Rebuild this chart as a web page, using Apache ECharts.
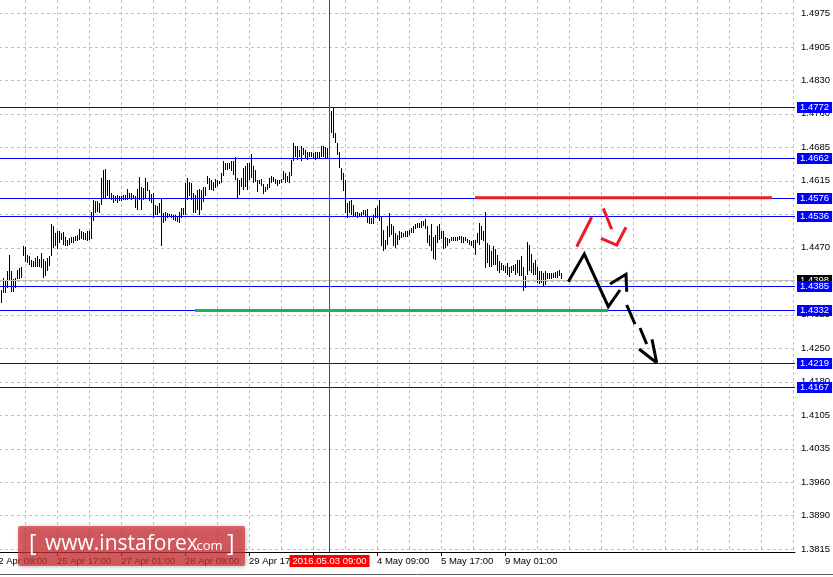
<!DOCTYPE html>
<html>
<head>
<meta charset="utf-8">
<script src="https://cdn.jsdelivr.net/npm/echarts@6/dist/echarts.min.js"></script>
<style>html,body{margin:0;padding:0;background:#fff;}#c{width:833px;height:577px;}</style>
</head>
<body>
<div id="c"></div>
<script>
// ---- data ----
const barHighs = [
1.4377,1.4402,1.4395,1.4417,1.4453,1.4417,1.4399,1.4402,1.4420,1.4424,
1.4427,1.4471,1.4469,1.4453,1.4450,1.4442,1.4439,1.4446,1.4450,1.4444,
1.4456,1.4444,1.4439,1.4446,1.4450,1.4518,1.4514,1.4500,1.4505,1.4503,
1.4500,1.4501,1.4492,1.4485,1.4489,1.4492,1.4491,1.4494,1.4496,1.4508,
1.4505,1.4501,1.4500,1.4503,1.4505,1.4546,1.4572,1.4568,1.4568,1.4564,
1.4619,1.4637,1.4638,1.4615,1.4615,1.4586,1.4582,1.4579,1.4582,1.4580,
1.4579,1.4581,1.4582,1.4595,1.4586,1.4587,1.4582,1.4580,1.4595,1.4621,
1.4600,1.4597,1.4619,1.4611,1.4593,1.4585,1.4586,1.4561,1.4557,1.4564,
1.4575,1.4543,1.4546,1.4543,1.4541,1.4541,1.4539,1.4539,1.4536,1.4546,
1.4554,1.4554,1.4608,1.4619,1.4610,1.4607,1.4586,1.4582,1.4592,1.4595,
1.4593,1.4599,1.4599,1.4624,1.4619,1.4614,1.4611,1.4616,1.4615,1.4613,
1.4629,1.4655,1.4651,1.4652,1.4651,1.4655,1.4655,1.4664,1.4619,1.4615,
1.4619,1.4640,1.4644,1.4651,1.4652,1.4671,1.4645,1.4637,1.4615,1.4615,
1.4616,1.4605,1.4599,1.4605,1.4619,1.4622,1.4621,1.4616,1.4615,1.4615,
1.4616,1.4633,1.4629,1.4622,1.4631,1.4658,1.4694,1.4687,1.4687,1.4680,
1.4688,1.4683,1.4680,1.4674,1.4674,1.4676,1.4672,1.4674,1.4676,1.4676,
1.4687,1.4687,1.4686,1.4683,1.4687,1.4763,1.4772,1.4716,1.4694,1.4676,
1.4640,1.4629,1.4615,1.4564,1.4568,1.4572,1.4561,1.4546,1.4546,1.4543,
1.4546,1.4550,1.4550,1.4551,1.4536,1.4532,1.4539,1.4554,1.4559,1.4572,
1.4536,1.4507,1.4485,1.4514,1.4543,1.4518,1.4515,1.4500,1.4496,1.4503,
1.4501,1.4500,1.4503,1.4505,1.4506,1.4510,1.4514,1.4518,1.4521,1.4521,
1.4525,1.4525,1.4530,1.4514,1.4496,1.4518,1.4492,1.4496,1.4514,1.4518,
1.4505,1.4503,1.4491,1.4489,1.4487,1.4492,1.4492,1.4491,1.4492,1.4494,
1.4494,1.4492,1.4492,1.4487,1.4485,1.4482,1.4485,1.4485,1.4500,1.4521,
1.4514,1.4503,1.4544,1.4478,1.4474,1.4460,1.4471,1.4466,1.4453,1.4439,
1.4435,1.4431,1.4429,1.4435,1.4427,1.4429,1.4431,1.4433,1.4442,1.4442,
1.4450,1.4427,1.4406,1.4480,1.4474,1.4455,1.4435,1.4442,1.4427,1.4417,
1.4417,1.4413,1.4417,1.4414,1.4414,1.4414,1.4413,1.4416,1.4417,1.4419,
1.4414
];
const barLows = [
1.4348,1.4370,1.4370,1.4381,1.4395,1.4371,1.4371,1.4381,1.4399,1.4399,
1.4402,1.4449,1.4436,1.4435,1.4431,1.4427,1.4426,1.4427,1.4427,1.4427,
1.4424,1.4402,1.4406,1.4417,1.4429,1.4449,1.4467,1.4471,1.4464,1.4478,
1.4485,1.4474,1.4471,1.4471,1.4474,1.4478,1.4478,1.4482,1.4483,1.4485,
1.4486,1.4485,1.4485,1.4483,1.4485,1.4486,1.4525,1.4543,1.4546,1.4543,
1.4561,1.4575,1.4575,1.4579,1.4573,1.4572,1.4564,1.4568,1.4564,1.4568,
1.4568,1.4570,1.4572,1.4570,1.4573,1.4572,1.4573,1.4554,1.4550,1.4572,
1.4549,1.4572,1.4575,1.4590,1.4568,1.4564,1.4532,1.4539,1.4539,1.4543,
1.4472,1.4521,1.4525,1.4532,1.4534,1.4532,1.4528,1.4525,1.4523,1.4521,
1.4532,1.4539,1.4539,1.4572,1.4579,1.4572,1.4543,1.4543,1.4550,1.4539,
1.4550,1.4566,1.4579,1.4605,1.4593,1.4593,1.4590,1.4597,1.4602,1.4605,
1.4608,1.4622,1.4637,1.4637,1.4638,1.4633,1.4626,1.4615,1.4575,1.4582,
1.4599,1.4593,1.4600,1.4592,1.4615,1.4619,1.4608,1.4611,1.4588,1.4605,
1.4602,1.4585,1.4588,1.4593,1.4597,1.4608,1.4611,1.4605,1.4602,1.4605,
1.4608,1.4615,1.4608,1.4609,1.4608,1.4622,1.4655,1.4665,1.4658,1.4665,
1.4655,1.4669,1.4662,1.4658,1.4664,1.4664,1.4662,1.4658,1.4662,1.4662,
1.4664,1.4665,1.4662,1.4660,1.4665,1.4716,1.4705,1.4694,1.4669,1.4640,
1.4615,1.4590,1.4543,1.4532,1.4543,1.4539,1.4536,1.4536,1.4532,1.4534,
1.4537,1.4539,1.4536,1.4521,1.4520,1.4520,1.4520,1.4532,1.4532,1.4525,
1.4471,1.4460,1.4465,1.4474,1.4492,1.4496,1.4471,1.4467,1.4474,1.4485,
1.4489,1.4491,1.4492,1.4492,1.4496,1.4500,1.4500,1.4508,1.4510,1.4510,
1.4510,1.4514,1.4508,1.4478,1.4471,1.4460,1.4444,1.4442,1.4478,1.4485,
1.4486,1.4464,1.4467,1.4471,1.4478,1.4482,1.4482,1.4482,1.4482,1.4485,
1.4477,1.4478,1.4482,1.4478,1.4474,1.4471,1.4467,1.4453,1.4478,1.4474,
1.4485,1.4482,1.4424,1.4435,1.4427,1.4427,1.4431,1.4431,1.4417,1.4413,
1.4420,1.4417,1.4413,1.4409,1.4404,1.4413,1.4417,1.4409,1.4413,1.4406,
1.4406,1.4373,1.4381,1.4409,1.4417,1.4413,1.4409,1.4409,1.4391,1.4390,
1.4391,1.4384,1.4388,1.4399,1.4400,1.4400,1.4402,1.4402,1.4402,1.4406,
1.4399
];
const firstBarSlot = 4;          // bars start at 22 Apr 13:00
const slotCount = 402;           // H1 slots on the time axis (incl. right shift)
const levels = [1.4772, 1.4662, 1.4576, 1.4536, 1.4385, 1.4332, 1.4219, 1.4167];
const bidPrice = 1.4398;
const markedTime = '3 May 09:00';
const markedTimeLabel = '2016.05.03 09:00';
const yTickValues = [1.3815,1.38875,1.396,1.40325,1.4105,1.41775,1.425,1.43225,1.4395,1.44675,1.454,1.46125,1.4685,1.47575,1.483,1.49025,1.4975];
const yTickLabels = ['1.3815','1.3890','1.3960','1.4035','1.4105','1.4180','1.4250','1.4325','1.4395','1.4470','1.4540','1.4615','1.4685','1.4760','1.4830','1.4905','1.4975'];
// annotations drawn on the chart: [slot, price] pairs
const resistanceLine = [[241, 1.4576], [389.5, 1.4576]];
const supportLine = [[101, 1.4332], [307.5, 1.4332]];
const redArrow = [
  [[291.85, 1.44699], [299.35, 1.45336]],
  [[305.15, 1.4553], [309.35, 1.45076]],
  [[304, 1.44881], [311.85, 1.44736], [316.5, 1.45119]]
];
const blackArrow = [
  [[287.65, 1.43941], [295.65, 1.44541], [307.65, 1.434], [313.5, 1.43762]],
  [[308.5, 1.43891], [316.5, 1.44101], [316.85, 1.43725]],
  [[316.85, 1.43437], [321, 1.43025]],
  [[323.5, 1.42939], [326.85, 1.42592]],
  [[329.5, 1.42694], [331.85, 1.42188]],
  [[323, 1.42484], [331.85, 1.42188]]
];

// ---- time axis (H1 bars, weekends skipped) ----
const months = ['Jan','Feb','Mar','Apr','May','Jun','Jul','Aug','Sep','Oct','Nov','Dec'];
const categories = [];
let t = Date.UTC(2016, 3, 22, 9);
while (categories.length < slotCount) {
  const d = new Date(t);
  const wd = d.getUTCDay();
  if (wd !== 0 && wd !== 6) {
    const hh = String(d.getUTCHours()).padStart(2, '0');
    categories.push(d.getUTCDate() + ' ' + months[d.getUTCMonth()] + ' ' + hh + ':00');
  }
  t += 3600000;
}
const lastBarSlot = firstBarSlot + barHighs.length - 1;
const markedIdx = categories.indexOf(markedTime);

const bars = barHighs.map((h, i) => [firstBarSlot + i, h, barLows[i]]);

const FONT = 'Liberation Sans';
const SMALL = '9.5px "Liberation Sans"';

// horizontal price lines with boxed labels on the price scale
const levelItems = [{ v: bidPrice, line: '#c0c0c0', bg: '#000000' }]
  .concat(levels.map(v => ({ v: v, line: '#0000ff', bg: '#0000ff' })));
const levelData = levelItems.map(it => [0, it.v]);

const lineSeries = (pts, color) => ({
  type: 'line', xAxisIndex: 1, yAxisIndex: 0, data: pts, symbol: 'none', silent: true,
  lineStyle: { color: color, width: 3, cap: 'butt', join: 'miter' }, z: 5, animation: false
});

const series = [
  {
    type: 'custom', data: bars, encode: { x: 0, y: [1, 2] }, animation: false, silent: true, z: 3,
    renderItem: function (params, api) {
      const p1 = api.coord([api.value(0), api.value(1)]);
      const p2 = api.coord([api.value(0), api.value(2)]);
      const x = Math.round(p1[0]) + 0.5;
      let y1 = Math.round(p1[1]), y2 = Math.round(p2[1]);
      if (y2 - y1 < 2) y2 = y1 + 2;
      return { type: 'line', shape: { x1: x, y1: y1, x2: x, y2: y2 }, style: { stroke: '#000', lineWidth: 1 } };
    }
  },
  {
    type: 'custom', data: levelData, encode: { x: 0, y: 1 }, animation: false, silent: true, z: 4, clip: false,
    renderItem: function (params, api) {
      const cs = params.coordSys;
      const it = levelItems[params.dataIndex];
      const y = Math.round(api.coord([0, api.value(1)])[1]) + 0.5;
      return { type: 'group', children: [
        { type: 'line', shape: { x1: cs.x, y1: y, x2: cs.x + cs.width, y2: y }, style: { stroke: it.line, lineWidth: 1 } },
        { type: 'text', style: { text: it.v.toFixed(4), x: cs.x + cs.width + 2, y: y, fill: '#fff', backgroundColor: it.bg,
            padding: [1, 3, 0, 3], font: SMALL, lineHeight: 10, verticalAlign: 'middle', align: 'left' } }
      ] };
    }
  },
  {
    type: 'custom', data: [[markedIdx, 1.45]], encode: { x: 0, y: 1 }, animation: false, silent: true, z: 4, clip: false,
    renderItem: function (params, api) {
      const cs = params.coordSys;
      const x = Math.round(api.coord([api.value(0), 1.45])[0]) + 0.5;
      return { type: 'group', children: [
        { type: 'line', shape: { x1: x, y1: cs.y, x2: x, y2: cs.y + cs.height }, style: { stroke: '#ff0000', lineWidth: 1 } },
        { type: 'text', style: { text: markedTimeLabel, x: x, y: cs.y + cs.height + 3, fill: '#fff', backgroundColor: '#ff0000',
            padding: [1, 3, 1, 3], font: SMALL, lineHeight: 10, verticalAlign: 'top', align: 'center' } }
      ] };
    }
  },
  lineSeries(resistanceLine, '#ed1c24'),
  lineSeries(supportLine, '#22b14c')
];
redArrow.forEach(s => series.push(lineSeries(s, '#ed1c24')));
blackArrow.forEach(s => series.push(lineSeries(s, '#000000')));

const gridDash = { color: '#c0c0c0', width: 1, type: [3, 3] };

const chart = echarts.init(document.getElementById('c'), null, { renderer: 'canvas' });
chart.setOption({
  animation: false,
  backgroundColor: '#fff',
  grid: { left: -7, top: 0, width: 2 * (slotCount - 1), height: 552, containLabel: false, outerBoundsMode: 'none' },
  xAxis: [{
    type: 'category', data: categories, boundaryGap: false,
    axisLine: { show: true, lineStyle: { color: '#000', width: 1 } },
    axisTick: { show: true, length: 4, lineStyle: { color: '#000' },
      interval: (i) => i % 32 === 0 && i <= lastBarSlot },
    axisLabel: { show: true, align: 'left', margin: 4, color: '#000', fontFamily: FONT, fontSize: 9.5,
      interval: (i) => i % 32 === 0 && i <= lastBarSlot && Math.abs(i - markedIdx) > 10 },
    splitLine: { show: true, interval: (i) => i % 16 === 0, lineStyle: gridDash }
  }, {
    type: 'value', min: 0, max: slotCount - 1, show: false
  }],
  yAxis: {
    type: 'value', position: 'right', min: 1.3809, max: 1.5004, scale: true,
    axisLine: { show: true, lineStyle: { color: '#000', width: 1 } },
    axisTick: { show: true, length: 3, customValues: yTickValues, lineStyle: { color: '#000' } },
    axisLabel: { show: true, margin: 6, color: '#000', fontFamily: FONT, fontSize: 9.5, customValues: yTickValues,
      formatter: (v) => { const k = yTickValues.findIndex(x => Math.abs(x - v) < 1e-7); return k >= 0 ? yTickLabels[k] : ''; } },
    splitLine: { show: true, lineStyle: gridDash }
  },
  series: series,
  graphic: [
    { type: 'line', shape: { x1: 0, y1: 574.5, x2: 833, y2: 574.5 }, style: { stroke: '#606060', lineWidth: 1 }, silent: true, z: 50 },
    { type: 'rect', shape: { x: 18, y: 526, width: 227, height: 40, r: 2 }, silent: true, z: 100,
      style: { fill: 'rgba(214,48,54,0.72)', shadowBlur: 4, shadowColor: 'rgba(0,0,0,0.35)', shadowOffsetX: 1, shadowOffsetY: 1 } },
    { type: 'text', x: 29, y: 544, silent: true, z: 101,
      style: { text: '[', fill: '#fff', font: '23px "Open Sans"', verticalAlign: 'middle' } },
    { type: 'text', x: 45, y: 544, silent: true, z: 101,
      style: { text: 'www.instaforex', fill: '#fff', font: '21px "Open Sans"', verticalAlign: 'middle',
        shadowBlur: 2, shadowColor: 'rgba(0,0,0,0.3)' } },
    { type: 'text', x: 193, y: 546.7, silent: true, z: 101,
      style: { text: '.com', fill: '#fff', font: '13px "Open Sans"', verticalAlign: 'middle' } },
    { type: 'text', x: 227, y: 544, silent: true, z: 101,
      style: { text: ']', fill: '#fff', font: '23px "Open Sans"', verticalAlign: 'middle' } }
  ]
});
</script>
</body>
</html>
